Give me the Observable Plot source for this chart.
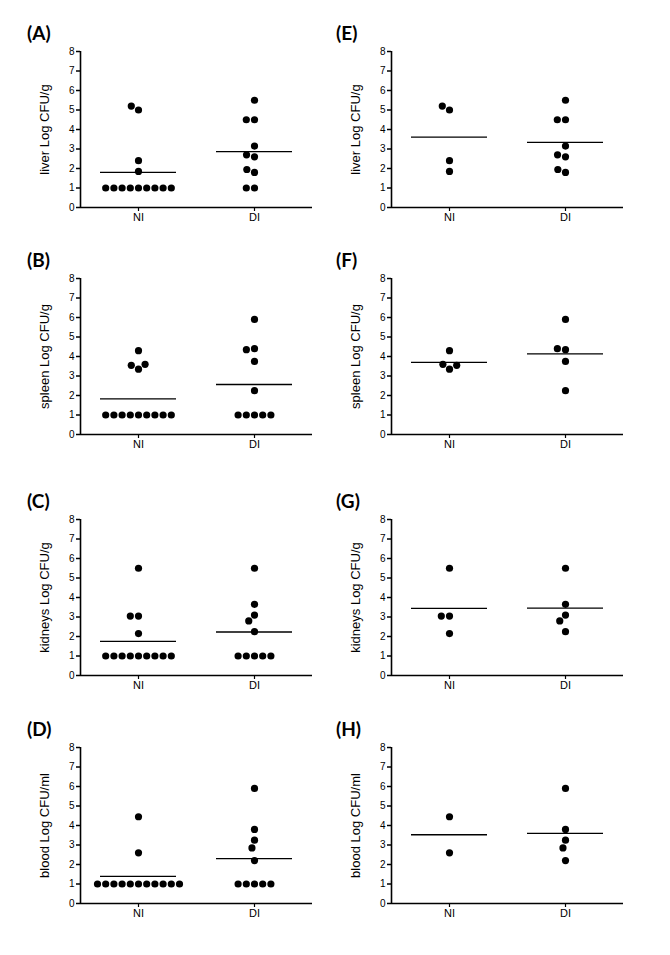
<!DOCTYPE html>
<html><head><meta charset="utf-8">
<script src="https://cdn.jsdelivr.net/npm/d3@7"></script>
<script src="https://cdn.jsdelivr.net/npm/@observablehq/plot@0.6"></script>
<style>
body{margin:0;background:#fff}
#fig{position:relative;width:670px;height:955px;overflow:hidden;background:#fff}
.lab{position:absolute;font-family:Lato,"Open Sans",sans-serif;font-weight:bold;font-size:19px;line-height:20px;color:#000;white-space:nowrap}
.pan{position:absolute;overflow:visible}
</style></head><body><div id="fig"></div>
<script>
// ---- data ----
const groups = ["NI", "DI"];
const yTicks = [0, 1, 2, 3, 4, 5, 6, 7, 8];
const panelLetters = ["(A)", "(B)", "(C)", "(D)", "(E)", "(F)", "(G)", "(H)"];
const organLabels = ["liver Log CFU/g", "spleen Log CFU/g", "kidneys Log CFU/g", "blood Log CFU/ml"];

// all animals (left column, A-D)
const liverNI   = [1, 1, 1, 1, 1, 1, 1, 1, 1, 1.85, 2.4, 5.0, 5.2];
const liverDI   = [5.5, 4.5, 4.5, 3.15, 2.6, 2.7, 1.8, 1.95, 1, 1];
const spleenNI  = [1, 1, 1, 1, 1, 1, 1, 1, 1, 3.35, 3.55, 3.6, 4.3];
const spleenDI  = [5.9, 4.4, 4.35, 3.75, 2.25, 1, 1, 1, 1, 1];
const kidneysNI = [1, 1, 1, 1, 1, 1, 1, 1, 1, 2.15, 3.05, 3.05, 5.5];
const kidneysDI = [5.5, 3.65, 3.1, 2.8, 2.25, 1, 1, 1, 1, 1];
const bloodNI   = [1, 1, 1, 1, 1, 1, 1, 1, 1, 1, 1, 2.6, 4.45];
const bloodDI   = [5.9, 3.8, 3.25, 2.85, 2.2, 1, 1, 1, 1, 1];

// infected animals only (right column, E-H)
const liverNIpos   = [1.85, 2.4, 5.0, 5.2];
const liverDIpos   = [5.5, 4.5, 4.5, 3.15, 2.6, 2.7, 1.8, 1.95];
const spleenNIpos  = [3.35, 3.6, 3.55, 4.3];
const spleenDIpos  = [5.9, 4.35, 4.4, 3.75, 2.25];
const kidneysNIpos = [2.15, 3.05, 3.05, 5.5];
const kidneysDIpos = [5.5, 3.65, 3.1, 2.8, 2.25];
const bloodNIpos   = [2.6, 4.45];
const bloodDIpos   = [5.9, 3.8, 3.25, 2.85, 2.2];

const leftSets  = [[liverNI, liverDI], [spleenNI, spleenDI], [kidneysNI, kidneysDI], [bloodNI, bloodDI]];
const rightSets = [[liverNIpos, liverDIpos], [spleenNIpos, spleenDIpos], [kidneysNIpos, kidneysDIpos], [bloodNIpos, bloodDIpos]];

// ---- layout ----
const rowTop = [51, 278, 519, 747];
const colAxisX = [79, 390];
const labelX = [27, 336];
const ML = 79, MT = 8, MB = 28, W = 330, H = 192;

function panel(ni, di, ylabel) {
  const rows = [...ni.map(v => ({g: "NI", v})), ...di.map(v => ({g: "DI", v}))];
  const yl = [{g: "NI", t: ylabel}];
  return Plot.plot({
    width: W, height: H, marginLeft: ML, marginRight: W - 312, marginTop: MT, marginBottom: MB,
    style: {fontFamily: '"Liberation Sans", Arial, sans-serif', fontSize: "10px", color: "#000", background: "transparent", overflow: "visible"},
    fx: {domain: groups, padding: 0},
    x: {domain: [0, 1], axis: null},
    y: {domain: [0, 8]},
    marks: [
      Plot.axisY({ticks: yTicks, tickSize: 4, tickPadding: 2, label: null, fontSize: 10, strokeWidth: 1.5}),
      Plot.axisFx({anchor: "bottom", tickSize: 4, tickPadding: 2, label: null, fontSize: 11, strokeWidth: 1.2}),
      Plot.text(yl, {fx: "g", text: "t", frameAnchor: "left", textAnchor: "middle", lineAnchor: "middle", rotate: -90, dx: -36, fontSize: 13}),
      Plot.ruleY([0], {strokeWidth: 1.6}),
      Plot.ruleX(yl, {fx: "g", x: 0, y1: 0, y2: 8, strokeWidth: 1.6}),
      Plot.ruleY(rows, Plot.groupZ({y: "mean"}, {y: "v", fx: "g", insetLeft: 20, insetRight: 20, strokeWidth: 1.3})),
      Plot.dot(rows, Plot.dodgeX("middle", {y: "v", fx: "g", r: 3.6, padding: 0.5, fill: "#000", stroke: "none"}))
    ]
  });
}

const fig = document.getElementById("fig");
[leftSets, rightSets].forEach((sets, c) => {
  sets.forEach(([ni, di], r) => {
    const svg = panel(ni, di, organLabels[r]);
    svg.classList.add("pan");
    svg.style.left = (colAxisX[c] - ML) + "px";
    svg.style.top = (rowTop[r] - MT) + "px";
    fig.appendChild(svg);
    const lab = document.createElement("div");
    lab.className = "lab";
    lab.textContent = panelLetters[c * 4 + r];
    lab.style.left = labelX[c] + "px";
    lab.style.top = (rowTop[r] - 28) + "px";
    fig.appendChild(lab);
  });
});
</script></body></html>
